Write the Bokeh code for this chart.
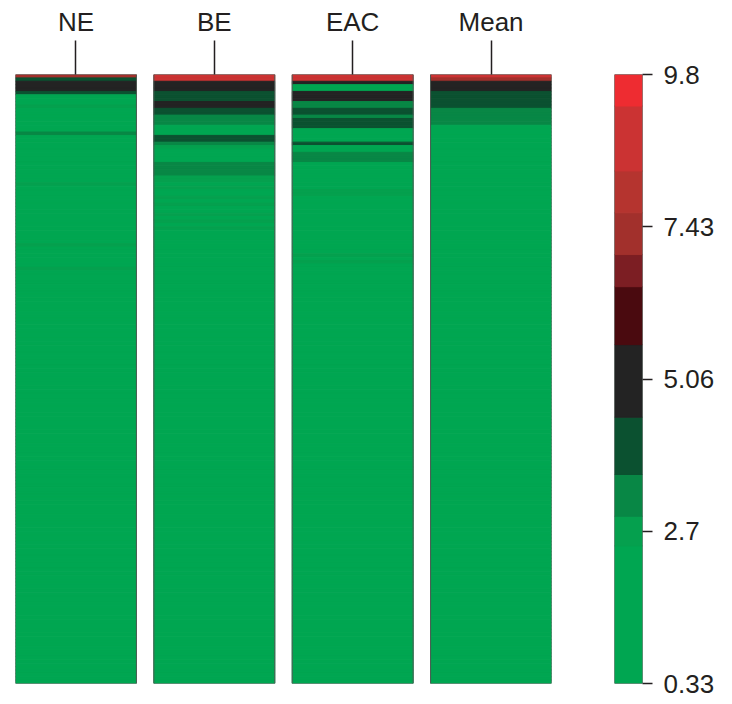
from bokeh.plotting import figure
from bokeh.models import Range1d, FixedTicker, ColumnDataSource
from bokeh.layouts import row
from bokeh.embed import file_html
from bokeh.resources import INLINE

# ---------------- data ----------------
COLUMNS = ["NE", "BE", "EAC", "Mean"]

# colour classes (value bin edges) and colours of the key
BOUNDS = [0.33, 2.47, 2.93, 3.58, 4.47, 5.6, 6.5, 7.0, 7.65, 8.30, 9.31, 9.8]
PALETTE = ["#00A651", "#05A04E", "#088745", "#0B5130", "#232323", "#4A0A0F",
           "#7C1E23", "#A2302C", "#B5342F", "#CB3333", "#EE2C31"]
KEY_TICKS = [0.33, 2.7, 5.06, 7.43, 9.8]
KEY_LABELS = ["0.33", "2.7", "5.06", "7.43", "9.8"]

NE_HEAD = [7.3, 4.0, 5.0, 5.1, 4.9, 3.8, 2.2, 2.1, 2.3, 2.6,
           2.0, 1.9, 2.2, 1.8, 2.1, 1.7, 2.0,
           3.0,
           1.9, 1.8, 2.0, 1.7, 1.6, 1.9, 1.8, 1.7, 1.5, 1.6, 1.8, 1.7, 1.6, 1.5,
           2.6,
           1.6, 1.5, 1.4, 1.7, 1.5, 1.4, 1.6, 1.3, 1.5, 1.4, 1.3, 1.5, 1.2, 1.4, 1.3, 1.2, 1.4,
           2.5,
           1.3, 1.2, 1.4, 1.1, 1.3, 1.2,
           2.5]
NE_TAIL = [1.2, 1.1, 1.3, 1.0, 1.2, 1.1, 1.0, 1.2, 0.9, 1.1,
           1.0, 1.1, 0.9, 1.0, 1.2, 0.9, 1.0, 0.8, 1.1, 0.9,
           1.0, 0.9, 0.8, 1.0, 0.9, 1.1, 0.8, 0.9, 1.0, 0.8,
           0.9, 0.8, 1.0, 0.9, 0.7, 0.9, 0.8, 1.0, 0.8, 0.9,
           0.7, 0.8, 0.9, 0.8, 0.7, 0.9, 0.8, 0.7, 0.8, 0.9,
           0.7, 0.8, 0.7, 0.6, 0.8, 0.7, 0.9, 0.7, 0.6, 0.8,
           0.7, 0.6, 0.7, 0.8, 0.6, 0.7, 0.6, 0.8, 0.7, 0.6,
           0.7, 0.6, 0.5, 0.7, 0.6, 0.7, 0.5, 0.6, 0.7, 0.6,
           0.5, 0.6, 0.7, 0.5, 0.6, 0.5, 0.6, 0.5, 0.7, 0.5,
           0.6, 0.5, 0.4, 0.6, 0.5, 0.6, 0.4, 0.5, 0.6, 0.5,
           0.4, 0.5, 0.4, 0.6, 0.5, 0.4, 0.5, 0.4, 0.5, 0.4,
           0.4, 0.5, 0.4, 0.4, 0.5, 0.4, 0.3, 0.4, 0.4, 0.3, 0.4, 0.4]

BE_HEAD = [8.8, 8.7, 5.0, 5.2, 4.9, 4.1, 4.0, 4.2, 4.8, 5.0,
           4.1, 3.9, 3.3, 3.2, 3.1, 2.2, 2.0, 2.1, 4.0, 3.9,
           3.2, 2.7, 2.3, 2.1, 2.2, 2.0, 3.2, 3.3, 3.1, 3.0,
           2.8, 2.6, 2.2, 2.6, 2.1, 2.0, 2.6, 1.9, 2.5, 1.9,
           1.8, 2.6, 1.8, 2.5, 1.7, 2.5,
           1.7, 1.6, 1.8, 1.5, 1.6, 1.7, 1.5, 1.4, 1.6, 1.5, 1.4, 1.5]
BE_TAIL = [1.4, 1.5, 1.3, 1.4, 1.2, 1.3, 1.4, 1.2, 1.3, 1.1,
           1.2, 1.3, 1.1, 1.2, 1.0, 1.2, 1.1, 1.0, 1.2, 1.1,
           1.0, 1.1, 0.9, 1.0, 1.1, 0.9, 1.0, 0.9, 1.1, 0.9,
           1.0, 0.8, 0.9, 1.0, 0.8, 0.9, 0.8, 1.0, 0.8, 0.9,
           0.8, 0.7, 0.9, 0.8, 0.7, 0.8, 0.9, 0.7, 0.8, 0.7,
           0.8, 0.7, 0.6, 0.8, 0.7, 0.6, 0.7, 0.8, 0.6, 0.7,
           0.6, 0.7, 0.6, 0.5, 0.7, 0.6, 0.5, 0.6, 0.7, 0.5,
           0.6, 0.5, 0.6, 0.5, 0.4, 0.6, 0.5, 0.6, 0.4, 0.5,
           0.5, 0.4, 0.6, 0.5, 0.4, 0.5, 0.4, 0.5, 0.4, 0.5,
           0.4, 0.5, 0.4, 0.4, 0.5, 0.4, 0.3, 0.4, 0.5, 0.4,
           0.4, 0.3, 0.4, 0.4, 0.3, 0.4, 0.4, 0.3, 0.4, 0.3,
           0.4, 0.3, 0.4, 0.3, 0.3, 0.4, 0.3, 0.3, 0.4, 0.3, 0.3, 0.3]

EAC_HEAD = [8.8, 8.6, 4.7, 2.2, 2.0, 5.0, 5.3, 5.1, 3.0, 3.0,
            4.1, 4.0, 3.2, 4.2, 4.0, 3.9, 2.2, 2.0, 2.1, 1.9,
            3.9, 2.1, 2.0, 3.2, 3.1, 3.0,
            2.2, 2.0, 1.9, 2.1, 1.8, 2.0, 1.9, 1.8,
            2.6, 2.6,
            1.9, 1.8, 1.7, 1.9, 1.8, 1.6, 1.7, 1.8, 1.6, 1.7, 1.5, 1.6, 1.7, 1.5, 1.6, 1.4, 1.5,
            2.5, 1.5, 2.5, 1.4, 1.5]
EAC_TAIL = [1.3, 1.4, 1.2, 1.3, 1.4, 1.1, 1.3, 1.2, 1.1, 1.2,
            1.1, 1.2, 1.0, 1.1, 1.2, 1.0, 1.1, 0.9, 1.0, 1.1,
            0.9, 1.0, 0.9, 1.1, 0.9, 1.0, 0.8, 0.9, 1.0, 0.8,
            0.9, 1.0, 0.8, 0.9, 0.8, 0.7, 0.9, 0.8, 0.9, 0.7,
            0.8, 0.9, 0.7, 0.8, 0.7, 0.8, 0.6, 0.7, 0.8, 0.7,
            0.6, 0.7, 0.8, 0.6, 0.7, 0.6, 0.7, 0.5, 0.6, 0.7,
            0.6, 0.5, 0.7, 0.6, 0.5, 0.6, 0.7, 0.5, 0.6, 0.5,
            0.6, 0.5, 0.4, 0.6, 0.5, 0.4, 0.5, 0.6, 0.4, 0.5,
            0.4, 0.5, 0.6, 0.4, 0.5, 0.4, 0.5, 0.4, 0.3, 0.5,
            0.4, 0.5, 0.4, 0.3, 0.4, 0.5, 0.4, 0.3, 0.4, 0.4,
            0.3, 0.4, 0.4, 0.3, 0.4, 0.3, 0.4, 0.4, 0.3, 0.4,
            0.3, 0.4, 0.3, 0.3, 0.4, 0.3, 0.4, 0.3, 0.3, 0.3, 0.4, 0.3]

MEAN_HEAD = [8.8, 7.3, 5.1, 5.0, 4.8, 4.3, 4.2, 4.0, 3.9, 3.7,
             3.5, 3.4, 3.3, 3.1, 3.0,
             2.4, 2.3, 2.3, 2.2, 2.2, 2.1, 2.1, 2.0, 2.0, 2.0,
             1.9, 1.9, 1.9, 1.8, 1.8, 1.8, 1.7, 1.7, 1.7, 1.7,
             1.6, 1.6, 1.6, 1.6, 1.5, 1.5, 1.5, 1.5, 1.5, 1.4,
             1.4, 1.4, 1.4, 1.4, 1.3, 1.3, 1.3, 1.3, 1.3, 1.3,
             1.2, 1.2, 1.2]
MEAN_TAIL = [1.2, 1.2, 1.2, 1.2, 1.1, 1.1, 1.1, 1.1, 1.1, 1.1,
             1.1, 1.0, 1.0, 1.0, 1.0, 1.0, 1.0, 1.0, 1.0, 0.9,
             0.9, 0.9, 0.9, 0.9, 0.9, 0.9, 0.9, 0.9, 0.9, 0.8,
             0.8, 0.8, 0.8, 0.8, 0.8, 0.8, 0.8, 0.8, 0.8, 0.8,
             0.8, 0.7, 0.7, 0.7, 0.7, 0.7, 0.7, 0.7, 0.7, 0.7,
             0.7, 0.7, 0.7, 0.7, 0.6, 0.6, 0.6, 0.6, 0.6, 0.6,
             0.6, 0.6, 0.6, 0.6, 0.6, 0.6, 0.6, 0.6, 0.5, 0.5,
             0.5, 0.5, 0.5, 0.5, 0.5, 0.5, 0.5, 0.5, 0.5, 0.5,
             0.5, 0.5, 0.5, 0.5, 0.4, 0.4, 0.4, 0.4, 0.4, 0.4,
             0.4, 0.4, 0.4, 0.4, 0.4, 0.4, 0.4, 0.4, 0.4, 0.4,
             0.4, 0.4, 0.4, 0.4, 0.4, 0.4, 0.4, 0.4, 0.4, 0.4,
             0.4, 0.4, 0.4, 0.4, 0.4, 0.4, 0.4, 0.4, 0.4, 0.4, 0.4, 0.4]

SERIES = [NE_HEAD + NE_TAIL, BE_HEAD + BE_TAIL, EAC_HEAD + EAC_TAIL, MEAN_HEAD + MEAN_TAIL]

# ---------------- helpers ----------------
def colour_of(v):
    for i in range(len(PALETTE)):
        if v < BOUNDS[i + 1]:
            return PALETTE[i]
    return PALETTE[-1]

N = max(len(s) for s in SERIES)
COL_W = 0.874
FONT = "Liberation Sans"
TXT = "#231F20"

xs, ys, cs = [], [], []
for ci, vals in enumerate(SERIES):
    for ri, v in enumerate(vals):
        xs.append(ci)
        ys.append(ri + 0.5)
        cs.append(colour_of(v))
src = ColumnDataSource(dict(x=xs, y=ys, c=cs))

# ---------------- heat map ----------------
p1 = figure(frame_width=536, frame_height=609, output_backend="svg", toolbar_location=None,
            x_range=Range1d(-COL_W / 2, len(COLUMNS) - 1 + COL_W / 2),
            y_range=Range1d(N, 0),
            x_axis_location="above", y_axis_location=None,
            min_border_left=15, min_border_right=13, min_border_top=74, min_border_bottom=10)
p1.outline_line_color = None
p1.grid.visible = False
p1.rect(x="x", y="y", width=COL_W, height=1, fill_color="c", line_color="c",
        line_width=1, source=src)
p1.rect(x=list(range(len(COLUMNS))), y=[N / 2] * len(COLUMNS), width=COL_W, height=N,
        fill_color=None, line_color="#4F5A54", line_width=1)

ax = p1.xaxis[0]
ax.ticker = FixedTicker(ticks=list(range(len(COLUMNS))))
ax.major_label_overrides = {i: name for i, name in enumerate(COLUMNS)}
ax.axis_line_color = None
ax.minor_tick_line_color = None
ax.major_tick_in = 0
ax.major_tick_out = 34
ax.major_tick_line_width = 1.5
ax.major_tick_line_color = TXT
ax.major_label_standoff = 4
ax.major_label_text_font = FONT
ax.major_label_text_font_size = "26px"
ax.major_label_text_color = TXT

# ---------------- colour key ----------------
p2 = figure(frame_width=28, frame_height=609, output_backend="svg", toolbar_location=None,
            x_range=Range1d(0, 1), y_range=Range1d(BOUNDS[0], BOUNDS[-1]),
            x_axis_location=None, y_axis_location="right",
            min_border_left=50, min_border_right=6, min_border_top=74, min_border_bottom=20)
p2.outline_line_color = None
p2.grid.visible = False
p2.quad(left=0, right=1, bottom=BOUNDS[:-1], top=BOUNDS[1:],
        fill_color=PALETTE, line_color=PALETTE, line_width=1)
p2.quad(left=[0], right=[1], bottom=[BOUNDS[0]], top=[BOUNDS[-1]],
        fill_color=None, line_color="#4F5A54", line_width=1)

ay = p2.yaxis[0]
ay.ticker = FixedTicker(ticks=KEY_TICKS)
ay.major_label_overrides = {t: l for t, l in zip(KEY_TICKS, KEY_LABELS)}
ay.axis_line_color = None
ay.minor_tick_line_color = None
ay.major_tick_in = 0
ay.major_tick_out = 10
ay.major_tick_line_width = 1.5
ay.major_tick_line_color = TXT
ay.major_label_standoff = 11
ay.major_label_text_font = FONT
ay.major_label_text_font_size = "26px"
ay.major_label_text_color = TXT

layout = row(p1, p2)
open("out.html", "w").write(file_html(layout, INLINE))
